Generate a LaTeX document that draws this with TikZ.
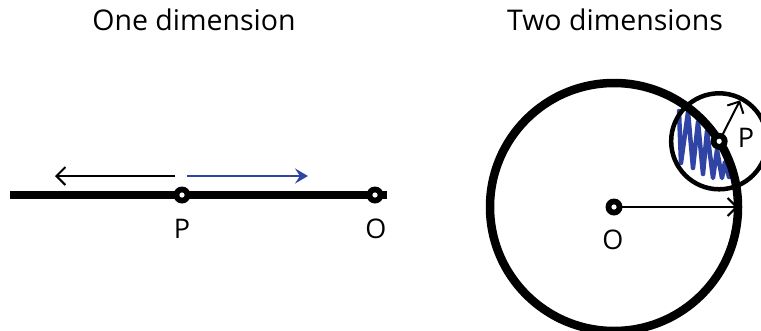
\documentclass[tikz,border=0pt]{standalone}
\usepackage{fontspec}
\setmainfont{Open Sans}
\usetikzlibrary{arrows.meta,calc}
\definecolor{pblue}{RGB}{48,68,165}
\tikzset{
  dot/.style={circle, fill=black, minimum size=17pt, inner sep=0pt, outer sep=0pt,
    path picture={\fill[white] (path picture bounding box.center) circle[radius=2.6pt];}},
  lbl/.style={font=\fontsize{27}{31}\selectfont, inner sep=0pt},
  ttl/.style={font=\fontsize{28.5}{33}\selectfont, inner sep=0pt},
  thinarrow/.style={line width=2pt, -{Straight Barb[length=9pt,width=18pt,line width=2pt]}},
  bluearrow/.style={line width=2pt, draw=pblue, -{Stealth[length=13pt,width=15pt,inset=5pt]}},
  scribble/.style={draw=pblue, line width=4.5pt, line cap=round, line join=round},
}
\begin{document}
\begin{tikzpicture}[x=1pt,y=-1pt]
\useasboundingbox (0,0) rectangle (761,330);
% titles
\node[ttl] (t1) at (194,20) {One dimension};
\node[ttl] (t2) at (615,20) {Two dimensions};
% one dimension
\coordinate (L) at (10,195);
\coordinate (R) at (387,195);
\draw[line width=7.5pt] (L) -- (R);
\node[dot] (P1) at (182,195) {};
\node[dot] (O1) at (375,195) {};
\node[lbl] (Pl1) at (182,229) {P};
\node[lbl] (Ol1) at (376,229) {O};
\coordinate (a1s) at (175,176);
\coordinate (a1e) at (55,176);
\coordinate (a2s) at (187,176);
\coordinate (a2e) at (308,176);
\draw[thinarrow] (a1s) -- (a1e);
\draw[bluearrow] (a2s) -- (a2e);
% two dimensions
\coordinate (O) at (614,207);
\coordinate (P) at ($(O)+(-32:124)$);
\coordinate (Rend) at ($(O)+(124,0)$);
\coordinate (Pend) at ($(P)+(-63:46)$);
\draw[scribble] (679,111) -- (681,163) -- (688,112) -- (693,168) -- (698,122) -- (703,174) -- (707,131) -- (713,178) -- (717,150) -- (722,178) -- (725,162) -- (729,177);
\draw[line width=4.5pt] (P) circle[radius=48];
\draw[line width=8.5pt] (O) circle[radius=124];
\draw[thinarrow] (O) -- (Rend);
\draw[thinarrow] (P) -- (Pend);
\node[dot] (O2) at (O) {};
\node[dot] (P2) at (P) {};
\node[lbl] (Ol2) at (613,240) {O};
\node[lbl] (Pl2) at (746,138) {P};
\end{tikzpicture}
\end{document}
